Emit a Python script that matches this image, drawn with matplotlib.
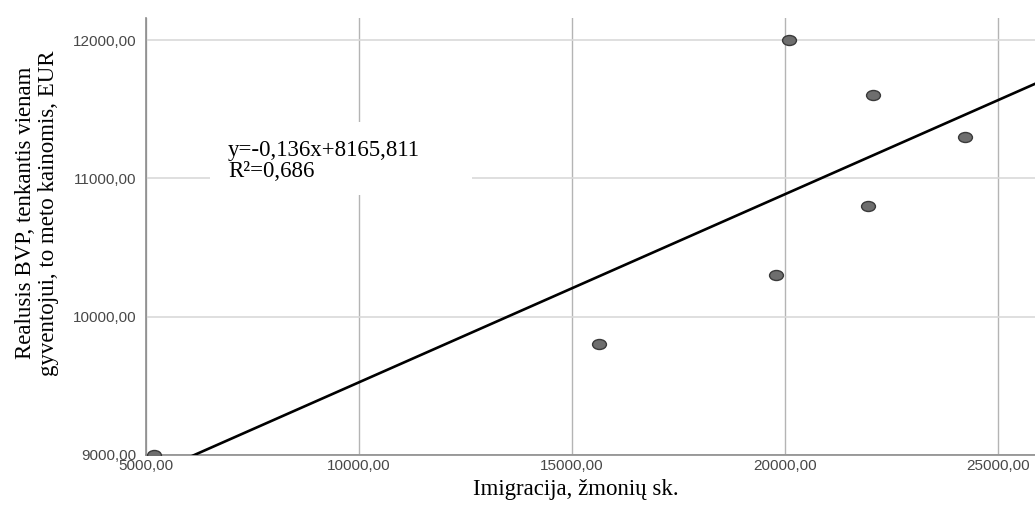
import numpy as np
import matplotlib
matplotlib.use("Agg")
import matplotlib.pyplot as plt
from matplotlib.patches import Rectangle
from matplotlib.path import Path
from matplotlib.transforms import Affine2D

# data
immigration = [5190, 15630, 19780, 20100, 21960, 22070, 24230]
gdp_per_capita = [9000, 9800, 10300, 12000, 10800, 11600, 11300]
fit_slope = 0.136
fit_intercept = 8165.811
fit_label = "y=-0,136x+8165,811\nR²=0,686"

x_ticks = [5000, 10000, 15000, 20000, 25000]
y_ticks = [9000, 10000, 11000, 12000]


def comma_fmt(v, pos=None):
    return ("%.2f" % v).replace(".", ",")


fig = plt.figure(figsize=(10.35, 5.09), dpi=100)
ax = fig.add_axes([0.1411, 0.1061, 0.8589, 0.8585])

ax.set_xlim(5000, 25870)
ax.set_ylim(9000, 12160)

ax.set_xticks(x_ticks)
ax.set_yticks(y_ticks)
ax.xaxis.set_major_formatter(plt.FuncFormatter(comma_fmt))
ax.yaxis.set_major_formatter(plt.FuncFormatter(comma_fmt))
ax.tick_params(length=0, labelsize=11, labelcolor="#484848")
for lab in ax.get_xticklabels() + ax.get_yticklabels():
    lab.set_family("Liberation Sans")
ax.tick_params(axis="x", pad=3)
ax.tick_params(axis="y", pad=7)

ax.xaxis.grid(True, color="#b4b4b4", linewidth=1.0, zorder=0)
ax.yaxis.grid(True, color="#d9d9d9", linewidth=1.2, zorder=0)
ax.set_axisbelow(True)

for side in ("top", "right"):
    ax.spines[side].set_visible(False)
for side in ("left", "bottom"):
    ax.spines[side].set_color("#8c8c8c")
    ax.spines[side].set_linewidth(1.2)

# white box behind the fit text (hides the grid)
ax.add_patch(Rectangle((0.072, 0.595), 0.295, 0.167, transform=ax.transAxes,
                       facecolor="white", edgecolor="none", zorder=1))
ax.text(0.092, 0.672, fit_label, transform=ax.transAxes, ha="left", va="center",
        fontsize=16.5, family="Liberation Serif", linespacing=1.0, zorder=2)

# regression line
xs = np.array(ax.get_xlim())
ax.plot(xs, fit_slope * xs + fit_intercept, color="black", linewidth=1.9, zorder=3)

# scatter points, slightly elliptical like the original
ellipse = Path.unit_circle().transformed(Affine2D().scale(1.0, 0.72))
ax.plot(immigration, gdp_per_capita, linestyle="none", marker=ellipse,
        markersize=10, markerfacecolor="#6e6e6e", markeredgecolor="#3a3a3a",
        markeredgewidth=1.0, zorder=4)

ax.set_xlabel("Imigracija, žmonių sk.", fontsize=16.5, family="Liberation Serif")
ax.xaxis.label.set_va("center")
ax.xaxis.set_label_coords(0.4837, -0.080)

ax.set_ylabel("Realusis BVP, tenkantis vienam\ngyventojui, to meto kainomis, EUR",
              fontsize=16.5, family="Liberation Serif", linespacing=1.1)
ax.yaxis.label.set_va("center")
ax.yaxis.set_label_coords(-0.1226, 0.554)

fig.savefig("out.png", dpi=100)
